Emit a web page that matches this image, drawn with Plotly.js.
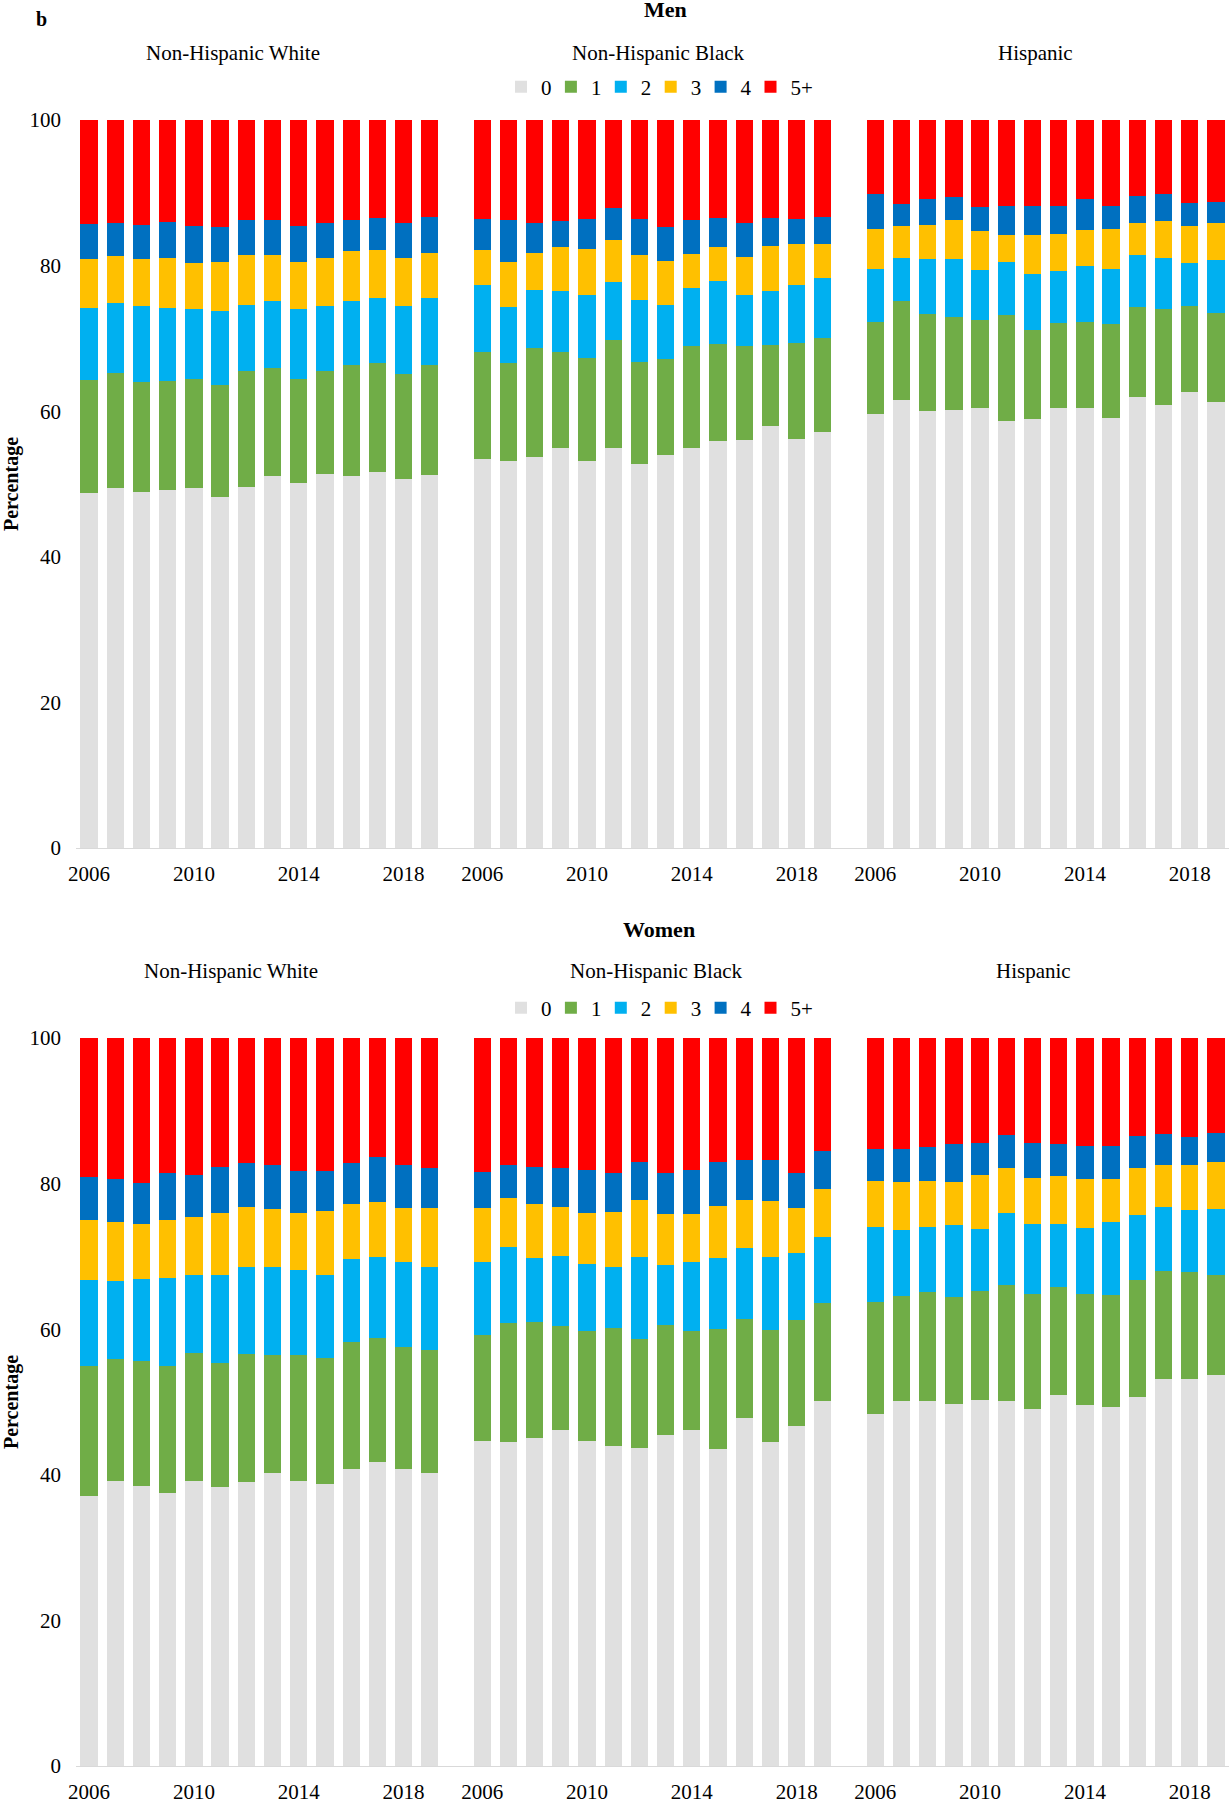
<!DOCTYPE html>
<html>
<head>
<meta charset="utf-8">
<script src="https://cdn.plot.ly/plotly-3.0.1.min.js"></script>
<style>body{margin:0;background:#fff}</style>
</head>
<body>
<div id="chart" style="width:1230px;height:1800px"></div>
<script>
var years = [2006, 2007, 2008, 2009, 2010, 2011, 2012, 2013, 2014, 2015, 2016, 2017, 2018, 2019];
var tickYears = [2006, 2010, 2014, 2018];
var groups = ["Non-Hispanic White", "Non-Hispanic Black", "Hispanic"];
var counts = ["0", "1", "2", "3", "4", "5+"];
var colors = ["#E0E0E0", "#70AD47", "#00B0F0", "#FFC000", "#0070C0", "#FF0000"];

// percentage per band, one row per count (0,1,2,3,4,5+), one value per year
var menWhite = [
  [48.7, 49.5, 48.9, 49.2, 49.4, 48.2, 49.6, 51.1, 50.2, 51.4, 51.1, 51.7, 50.7, 51.3],
  [15.6, 15.7, 15.1, 14.9, 15.0, 15.4, 15.9, 14.9, 14.2, 14.1, 15.2, 14.9, 14.4, 15.0],
  [9.9, 9.7, 10.4, 10.1, 9.6, 10.1, 9.1, 9.2, 9.7, 8.9, 8.8, 9.0, 9.4, 9.2],
  [6.7, 6.4, 6.5, 6.9, 6.4, 6.8, 6.8, 6.2, 6.4, 6.7, 6.9, 6.5, 6.6, 6.2],
  [4.8, 4.5, 4.7, 4.9, 5.1, 4.8, 4.9, 4.8, 4.9, 4.7, 4.3, 4.5, 4.8, 5.0],
  [14.3, 14.2, 14.4, 14.0, 14.5, 14.7, 13.7, 13.8, 14.6, 14.2, 13.7, 13.4, 14.1, 13.3]
];
var menBlack = [
  [53.4, 53.1, 53.7, 54.9, 53.2, 55.0, 52.8, 54.0, 55.0, 55.9, 56.0, 58.0, 56.2, 57.2],
  [14.8, 13.5, 15.0, 13.3, 14.1, 14.8, 14.0, 13.2, 13.9, 13.4, 13.0, 11.1, 13.2, 12.9],
  [9.2, 7.7, 7.9, 8.3, 8.6, 8.0, 8.5, 7.4, 8.0, 8.6, 6.9, 7.4, 7.9, 8.2],
  [4.8, 6.2, 5.1, 6.0, 6.4, 5.7, 6.1, 6.0, 4.7, 4.7, 5.3, 6.2, 5.7, 4.7],
  [4.2, 5.8, 4.2, 3.6, 4.1, 4.4, 5.0, 4.7, 4.7, 4.0, 4.6, 3.9, 3.4, 3.7],
  [13.6, 13.7, 14.1, 13.9, 13.6, 12.1, 13.6, 14.7, 13.7, 13.4, 14.2, 13.4, 13.6, 13.3]
];
var menHispanic = [
  [59.6, 61.5, 60.0, 60.2, 60.5, 58.7, 58.9, 60.4, 60.4, 59.0, 62.0, 60.9, 62.6, 61.2],
  [12.7, 13.6, 13.4, 12.7, 12.0, 14.5, 12.3, 11.7, 11.9, 13.0, 12.3, 13.1, 11.9, 12.3],
  [7.2, 5.9, 7.5, 8.0, 6.9, 7.3, 7.7, 7.1, 7.7, 7.5, 7.1, 7.1, 5.9, 7.3],
  [5.5, 4.5, 4.7, 5.3, 5.3, 3.7, 5.3, 5.2, 4.9, 5.5, 4.4, 5.0, 5.0, 5.1],
  [4.9, 2.9, 3.5, 3.2, 3.3, 4.0, 4.0, 3.8, 4.2, 3.2, 3.7, 3.7, 3.2, 2.9],
  [10.1, 11.6, 10.9, 10.6, 12.0, 11.8, 11.8, 11.8, 10.9, 11.8, 10.5, 10.2, 11.4, 11.2]
];
var womenWhite = [
  [37.1, 39.2, 38.5, 37.5, 39.2, 38.3, 39.0, 40.2, 39.2, 38.7, 40.8, 41.7, 40.8, 40.2],
  [17.9, 16.7, 17.2, 17.5, 17.6, 17.1, 17.6, 16.3, 17.3, 17.4, 17.5, 17.1, 16.7, 16.9],
  [11.8, 10.7, 11.2, 12.1, 10.7, 12.0, 11.9, 12.0, 11.6, 11.4, 11.3, 11.1, 11.7, 11.4],
  [8.2, 8.1, 7.6, 7.9, 7.9, 8.5, 8.3, 8.0, 7.9, 8.7, 7.6, 7.6, 7.5, 8.1],
  [5.9, 6.0, 5.6, 6.5, 5.8, 6.4, 6.0, 6.1, 5.7, 5.6, 5.6, 6.1, 5.9, 5.6],
  [19.1, 19.3, 19.9, 18.5, 18.8, 17.7, 17.2, 17.4, 18.3, 18.2, 17.2, 16.4, 17.4, 17.8]
];
var womenBlack = [
  [44.7, 44.5, 45.1, 46.1, 44.6, 44.0, 43.7, 45.4, 46.1, 43.6, 47.8, 44.5, 46.7, 50.2],
  [14.5, 16.4, 15.9, 14.4, 15.1, 16.2, 15.0, 15.2, 13.7, 16.4, 13.6, 15.4, 14.5, 13.4],
  [10.1, 10.4, 8.8, 9.5, 9.2, 8.4, 11.2, 8.2, 9.4, 9.8, 9.8, 10.0, 9.3, 9.0],
  [7.3, 6.7, 7.4, 6.8, 7.1, 7.5, 7.8, 7.0, 6.6, 7.1, 6.6, 7.7, 6.2, 6.7],
  [5.0, 4.6, 5.1, 5.4, 5.9, 5.4, 5.3, 5.7, 6.1, 6.0, 5.5, 5.6, 4.8, 5.2],
  [18.4, 17.4, 17.7, 17.8, 18.1, 18.5, 17.0, 18.5, 18.1, 17.1, 16.7, 16.8, 18.5, 15.5]
];
var womenHispanic = [
  [48.4, 50.2, 50.1, 49.7, 50.3, 50.1, 49.0, 51.0, 49.6, 49.3, 50.7, 53.1, 53.1, 53.7],
  [15.4, 14.3, 15.0, 14.7, 14.9, 16.0, 15.9, 14.8, 15.3, 15.4, 16.0, 14.9, 14.7, 13.8],
  [10.3, 9.1, 9.0, 9.9, 8.6, 9.9, 9.5, 8.7, 9.0, 10.0, 9.0, 8.8, 8.6, 9.0],
  [6.2, 6.6, 6.2, 5.9, 7.4, 6.2, 6.4, 6.6, 6.8, 5.9, 6.4, 5.7, 6.2, 6.4],
  [4.4, 4.6, 4.7, 5.2, 4.4, 4.5, 4.8, 4.4, 4.4, 4.6, 4.5, 4.3, 3.8, 4.0],
  [15.3, 15.2, 15.0, 14.6, 14.4, 13.3, 14.4, 14.5, 14.9, 14.8, 13.4, 13.2, 13.6, 13.1]
];

var men = [menWhite, menBlack, menHispanic];
var women = [womenWhite, womenBlack, womenHispanic];

var font = "Liberation Serif, Times New Roman, serif";
var W = 1230, H = 1800;
// one empty slot between the three groups
var slot = years.length + 1;

function px(x) { return x / W; }
function py(y) { return (H - y) / H; }

// each legend entry gets its own legend box so the spacing can follow the reference
var layout = {};
var legendCount = 0;
function legendItem(x, y) {
  legendCount++;
  var key = legendCount == 1 ? "legend" : "legend" + legendCount;
  layout[key] = {
    orientation: "h",
    x: px(x),
    y: py(y),
    xanchor: "left",
    yanchor: "middle",
    font: {family: font, size: 21, color: "#000"},
    bgcolor: "rgba(0,0,0,0)"
  };
  return key;
}

function panelTraces(panel, xa, ya, legendY) {
  var traces = [];
  for (var c = 0; c < counts.length; c++) {
    var xs = [], ys = [];
    for (var g = 0; g < panel.length; g++) {
      for (var i = 0; i < years.length; i++) {
        xs.push(g * slot + i);
        ys.push(panel[g][c][i]);
      }
    }
    traces.push({
      type: "bar",
      x: xs,
      y: ys,
      name: counts[c],
      marker: {color: colors[c], line: {width: 0}},
      xaxis: xa,
      yaxis: ya,
      legend: legendItem(501 + 49.9 * c, legendY),
      hoverinfo: "x+y+name"
    });
  }
  return traces;
}

var tickvals = [], ticktext = [];
for (var g = 0; g < groups.length; g++) {
  tickYears.forEach(function(yr) {
    tickvals.push(g * slot + years.indexOf(yr));
    ticktext.push(String(yr));
  });
}

function xaxisFor(anchor) {
  return {
    anchor: anchor,
    domain: [px(76), px(1229)],
    range: [-0.5, groups.length * slot - 1.5],
    tickvals: tickvals,
    ticktext: ticktext,
    ticks: "",
    ticklabelstandoff: 7,
    showgrid: false,
    zeroline: false,
    showline: true,
    linecolor: "#D9D9D9",
    linewidth: 1,
    tickfont: {family: font, size: 21, color: "#000"}
  };
}

function yaxisFor(anchor, top, bottom) {
  return {
    anchor: anchor,
    domain: [py(bottom), py(top)],
    range: [0, 100],
    tickvals: [0, 20, 40, 60, 80, 100],
    ticks: "",
    ticklabelstandoff: 14,
    showgrid: false,
    zeroline: false,
    showline: false,
    tickfont: {family: font, size: 21, color: "#000"},
    title: {text: "Percentage", standoff: 14, font: {family: font, size: 20, color: "#000", weight: "bold"}}
  };
}

var annotations = [];
function addText(text, x, y, size, bold) {
  annotations.push({
    text: bold ? "<b>" + text + "</b>" : text,
    xref: "paper", yref: "paper",
    x: px(x), y: py(y),
    xanchor: "center", yanchor: "middle",
    showarrow: false,
    font: {family: font, size: size, color: "#000"}
  });
}
addText("b", 41, 19, 20, true);
addText("Men", 665, 9, 22, true);
addText("Women", 659, 930, 22, true);
var titleX = [233, 658, 1035];
groups.forEach(function(name, g) {
  addText(name, titleX[g], 53, 21, false);
  addText(name, titleX[g] - 2, 971, 21, false);
});

var data = panelTraces(men, "x", "y", 87).concat(panelTraces(women, "x2", "y2", 1008));

Object.assign(layout, {
  width: W,
  height: H,
  margin: {l: 0, r: 0, t: 0, b: 0},
  paper_bgcolor: "#fff",
  plot_bgcolor: "#fff",
  barmode: "stack",
  bargap: 0.34,
  showlegend: true,
  font: {family: font, color: "#000"},
  xaxis: xaxisFor("y"),
  yaxis: yaxisFor("x", 120, 848),
  xaxis2: xaxisFor("y2"),
  yaxis2: yaxisFor("x2", 1038, 1766),
  annotations: annotations
});

Plotly.newPlot("chart", data, layout, {displayModeBar: false, staticPlot: true});
</script>
</body>
</html>
